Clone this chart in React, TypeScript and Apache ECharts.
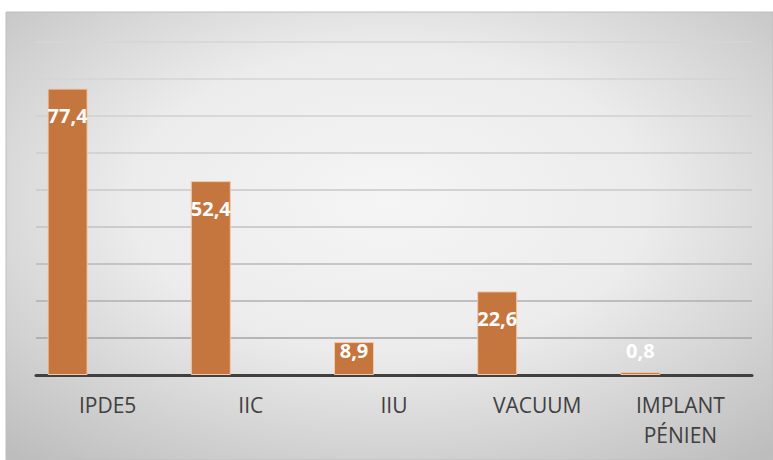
import React, { useEffect, useRef } from "react";
import * as echarts from "echarts";

const categories = ["IPDE5", "IIC", "IIU", "VACUUM", "IMPLANT PÉNIEN"];
const values = [77.4, 52.4, 8.9, 22.6, 0.8];
const emptySeries: (number | null)[] = [null, null, null, null, null];

const gridColors = [
  "#9A9A9A", "#A4A4A4", "#AFAFAF", "#B9B9B9", "#C2C2C2",
  "#C8C8C8", "#CDCDCD", "#D1D1D1", "#D4D4D4", "#D6D6D6",
];

export default function App() {
  const ref = useRef<HTMLDivElement>(null);
  useEffect(() => {
    if (!ref.current) return;
    const chart = echarts.init(ref.current, null, { renderer: "svg" });
    const data = values.map((v) => ({
      value: v,
      label:
        v >= 15
          ? { position: "insideTop", distance: 17 }
          : { position: "insideBottom", distance: 15 },
    }));
    chart.setOption({
      animation: false,
      graphic: [
        {
          type: "rect",
          z: -10,
          silent: true,
          shape: { x: 6, y: 12, width: 767, height: 448 },
          style: {
            fill: {
              type: "radial",
              x: 0.5,
              y: 0.42,
              r: 0.75,
              colorStops: [
                { offset: 0, color: "#F5F5F5" },
                { offset: 0.45, color: "#ECECEC" },
                { offset: 1, color: "#BDBDBD" },
              ],
            },
            stroke: "#BEBEBE",
            lineWidth: 1,
          },
        },
      ],
      grid: { left: 36, right: 21, top: 42, bottom: 85, containLabel: false },
      xAxis: {
        type: "category",
        data: categories,
        axisLine: { show: true, lineStyle: { color: "#404040", width: 3 } },
        axisTick: { show: false },
        axisLabel: {
          interval: 0,
          margin: 15,
          color: "#404040",
          fontFamily: "Open Sans",
          fontSize: 21,
          lineHeight: 30,
          formatter: (s: string) => s.replace(" ", "\n"),
        },
      },
      yAxis: {
        type: "value",
        min: 0,
        max: 90,
        interval: 10,
        axisLabel: { show: false },
        axisLine: { show: false },
        axisTick: { show: false },
        splitLine: { lineStyle: { color: gridColors, width: 1.5 } },
      },
      series: [
        {
          type: "bar",
          data,
          barWidth: 40,
          barGap: "100%",
          itemStyle: { color: "#C5763E", borderColor: "#F3C9AA", borderWidth: 1 },
          label: {
            show: true,
            color: "#FFFFFF",
            fontFamily: "Open Sans",
            fontWeight: "bold",
            fontSize: 20,
            formatter: (p: any) => String(p.value).replace(".", ","),
          },
        },
        {
          type: "bar",
          data: emptySeries,
          barWidth: 40,
        },
      ],
    });
    return () => chart.dispose();
  }, []);
  return (
    <div
      ref={ref}
      style={{ position: "fixed", left: 0, top: 0, width: 773, height: 460, background: "#FFFFFF" }}
    />
  );
}
